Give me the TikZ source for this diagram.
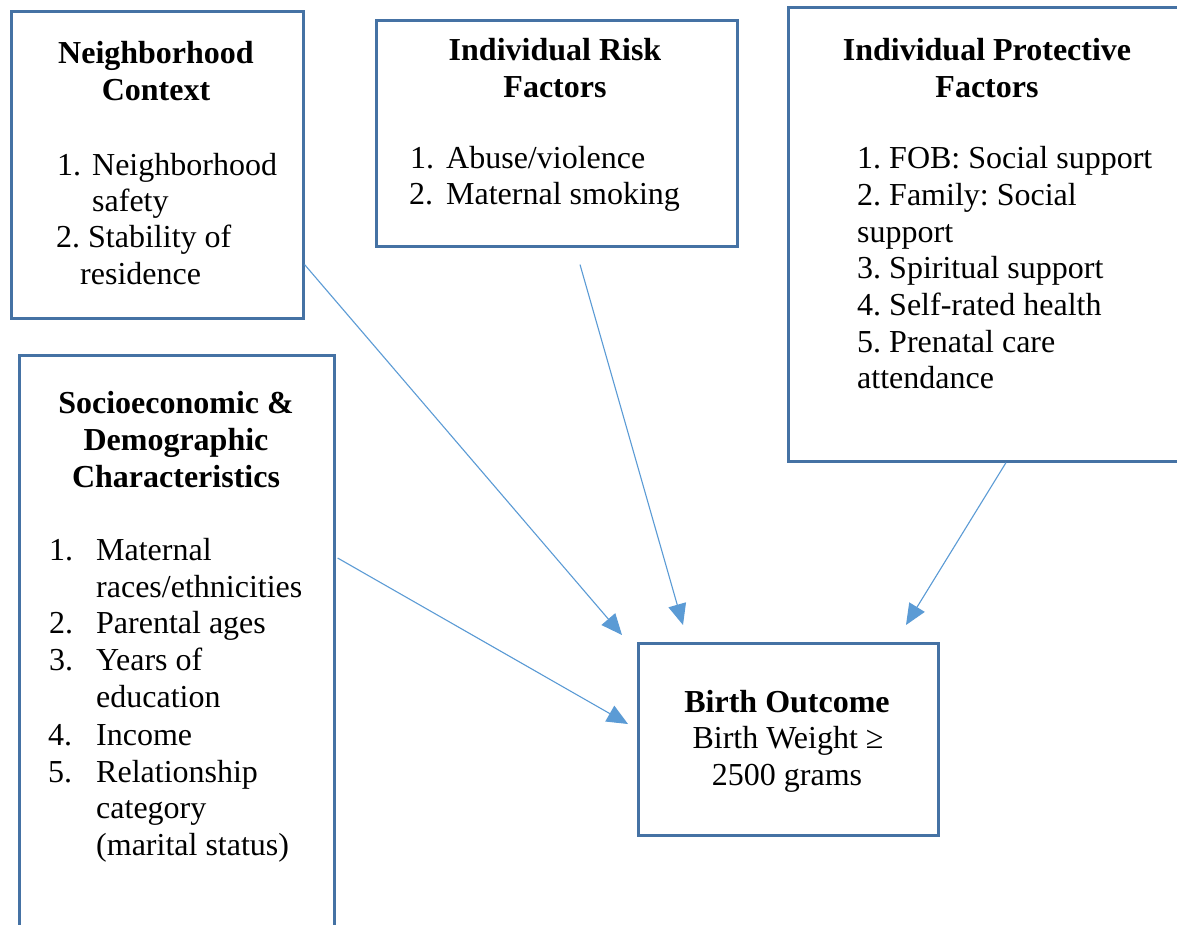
\documentclass[tikz,border=0pt]{standalone}
\usepackage{fontspec}
\setmainfont{Liberation Serif}
\usetikzlibrary{arrows.meta,calc}
\definecolor{boxblue}{HTML}{4572A4}
\definecolor{arrowblue}{HTML}{5B9BD5}
\newcommand{\dgbody}{\fontsize{32}{36.8}\selectfont}
\newcommand{\dgbold}{\fontsize{32}{36.8}\selectfont\bfseries}
\newcommand{\numbox}[2]{\makebox[#1][l]{#2}}
\frenchspacing
\begin{document}
\begin{tikzpicture}[x=1pt,y=-1pt,
  box/.style={draw=boxblue, line width=2.6pt, fill=white, rectangle, anchor=north west, inner sep=0pt},
  lt/.style={anchor=base west, inner sep=0pt, font=\dgbody},
  ct/.style={anchor=base, inner sep=0pt, font=\dgbold},
  cn/.style={anchor=base, inner sep=0pt, font=\dgbody},
  link/.style={draw=arrowblue, line width=1.1pt, -{Triangle[length=21pt,width=18pt]}}]
\useasboundingbox (0,0) rectangle (1177,924);
\clip (0,0) rectangle (1177,924);
\fill[white] (0,0) rectangle (1177,924);
% boxes
\node[box, minimum width=292pt, minimum height=307pt] (nb) at (10,10) {};
\node[box, minimum width=361pt, minimum height=226pt] (rf) at (375,19) {};
\node[box, minimum width=420pt, minimum height=454pt] (pf) at (787,6) {};
\node[box, minimum width=315pt, minimum height=600pt] (se) at (18,354) {};
\node[box, minimum width=300pt, minimum height=192pt] (bo) at (637,642) {};
% Neighborhood Context
\node[ct] (nbt1) at (156,63) {Neighborhood};
\node[ct] (nbt2) at (156,100) {Context};
\node[lt] (nbl1) at (57,175) {\numbox{35pt}{1.}Neighborhood};
\node[lt] (nbl2) at (92,211) {safety};
\node[lt] (nbl3) at (56,247) {2. Stability of};
\node[lt] (nbl4) at (80,284) {residence};
% Individual Risk Factors
\node[ct] (rft1) at (555,60) {Individual Risk};
\node[ct] (rft2) at (555,97) {Factors};
\node[lt] (rfl1) at (410,168) {\numbox{36pt}{1.}Abuse/violence};
\node[lt] (rfl2) at (409,204) {\numbox{37pt}{2.}Maternal smoking};
% Individual Protective Factors
\node[ct] (pft1) at (987,60) {Individual Protective};
\node[ct] (pft2) at (987,97) {Factors};
\node[lt] (pfl1) at (857,168) {1. FOB: Social support};
\node[lt] (pfl2) at (857,205) {2. Family: Social};
\node[lt] (pfl3) at (857,242) {support};
\node[lt] (pfl4) at (857,278) {3. Spiritual support};
\node[lt] (pfl5) at (857,315) {4. Self-rated health};
\node[lt] (pfl6) at (857,352) {5. Prenatal care};
\node[lt] (pfl7) at (857,388) {attendance};
% Socioeconomic & Demographic Characteristics
\node[ct] (set1) at (176,413) {Socioeconomic \&};
\node[ct] (set2) at (176,450) {Demographic};
\node[ct] (set3) at (176,487) {Characteristics};
\node[lt] (sel1) at (49,560) {\numbox{47pt}{1.}Maternal};
\node[lt] (sel2) at (96,597) {races/ethnicities};
\node[lt] (sel3) at (49,633) {\numbox{47pt}{2.}Parental ages};
\node[lt] (sel4) at (49,670) {\numbox{47pt}{3.}Years of};
\node[lt] (sel5) at (96,707) {education};
\node[lt] (sel6) at (48,745) {\numbox{48pt}{4.}Income};
\node[lt] (sel7) at (48,782) {\numbox{48pt}{5.}Relationship};
\node[lt] (sel8) at (96,818) {category};
\node[lt] (sel9) at (96,855) {(marital status)};
% Birth Outcome
\node[ct] (bot1) at (787,712) {Birth Outcome};
\node[cn] (bot2) at (788,748) {Birth Weight ≥};
\node[cn] (bot3) at (787,785) {2500 grams};
% connector ends
\coordinate (s1) at ($(nb.south east)+(0,-55)$);
\coordinate (s2) at ($(rf.south west)+(205,17)$);
\coordinate (s3) at ($(pf.south west)+(219,0)$);
\coordinate (s4) at ($(se.north east)+(2,204)$);
\coordinate (e1) at ($(bo.north west)+(-15,-7)$);
\coordinate (e2) at ($(bo.north west)+(46,-17)$);
\coordinate (e3) at ($(bo.north west)+(269,-17)$);
\coordinate (e4) at ($(bo.north west)+(-9,82)$);
\draw[link] (s1) -- (e1);
\draw[link] (s2) -- (e2);
\draw[link] (s3) -- (e3);
\draw[link] (s4) -- (e4);
\end{tikzpicture}
\end{document}
